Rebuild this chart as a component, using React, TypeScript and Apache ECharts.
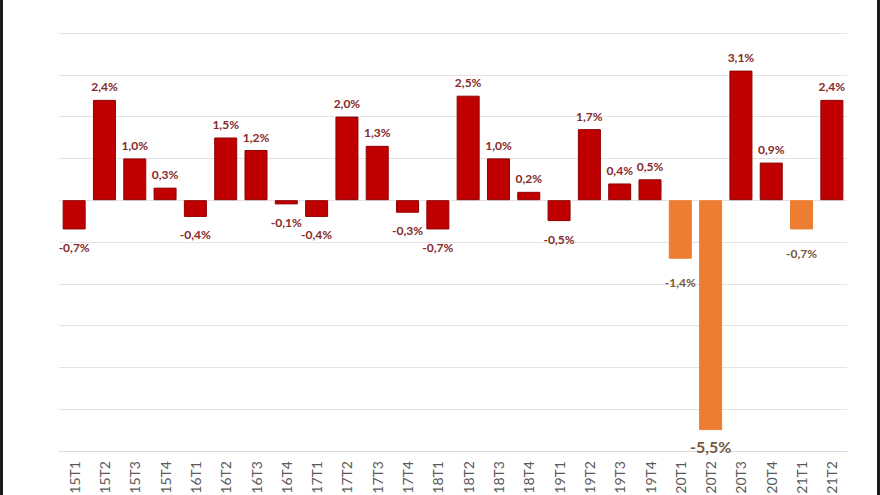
import React, { useEffect, useRef } from "react";
import * as echarts from "echarts";

const categories = [
  "2015T1", "2015T2", "2015T3", "2015T4",
  "2016T1", "2016T2", "2016T3", "2016T4",
  "2017T1", "2017T2", "2017T3", "2017T4",
  "2018T1", "2018T2", "2018T3", "2018T4",
  "2019T1", "2019T2", "2019T3", "2019T4",
  "2020T1", "2020T2", "2020T3", "2020T4",
  "2021T1", "2021T2",
];
const values = [
  -0.7, 2.4, 1.0, 0.3,
  -0.4, 1.5, 1.2, -0.1,
  -0.4, 2.0, 1.3, -0.3,
  -0.7, 2.5, 1.0, 0.2,
  -0.5, 1.7, 0.4, 0.5,
  -1.4, -5.5, 3.1, 0.9,
  -0.7, 2.4,
];
const highlighted = ["2020T1", "2020T2", "2021T1"];
const yTicks = { min: -6, max: 4, interval: 1 };

const RED = "#C00000";
const RED_BORDER = "#8E0000";
const ORANGE = "#ED7D31";
const RED_LABEL = "#862828";
const ORANGE_LABEL = "#735A40";

const fmt = (v: number) => v.toFixed(1).replace(".", ",") + "%";

export default function App() {
  const ref = useRef<HTMLDivElement>(null);
  useEffect(() => {
    if (!ref.current) return;
    const chart = echarts.init(ref.current, undefined, { renderer: "svg" });
    const minVal = Math.min(...values);
    const data = values.map((v, i) => {
      const hi = highlighted.includes(categories[i]);
      const isMin = v === minVal;
      return {
        value: v,
        itemStyle: {
          color: hi ? ORANGE : RED,
          borderColor: hi ? ORANGE : RED_BORDER,
          borderWidth: 1,
        },
        label: {
          position: v >= 0 ? "top" : "bottom",
          distance: v >= 0 ? 7 : isMin ? 8 : hi ? 18 : 12,
          color: hi ? ORANGE_LABEL : RED_LABEL,
          fontSize: isMin ? 16 : 12,
        },
      };
    });
    chart.setOption({
      animation: false,
      backgroundColor: "#ffffff",
      grid: {
        left: 59,
        right: 33,
        top: 33,
        bottom: 44,
        containLabel: false,
        outerBoundsMode: "none",
      },
      xAxis: {
        type: "category",
        data: categories,
        axisLine: { onZero: false, lineStyle: { color: "#D9D9D9", width: 1 } },
        axisTick: { show: false },
        axisLabel: {
          rotate: 90,
          margin: 10,
          color: "#595959",
          fontSize: 14,
          fontFamily: "Lato",
          interval: 0,
          formatter: (v: string) => v.slice(2),
        },
      },
      yAxis: {
        type: "value",
        min: yTicks.min,
        max: yTicks.max,
        interval: yTicks.interval,
        axisLabel: { show: false },
        axisLine: { show: false },
        axisTick: { show: false },
        splitLine: { lineStyle: { color: "#E3E3E3", width: 1 } },
      },
      series: [
        {
          type: "bar",
          data,
          barWidth: 23,
          label: {
            show: true,
            fontFamily: "Lato",
            fontWeight: "bold",
            formatter: (p: any) => fmt(p.value),
          },
        },
      ],
      graphic: [
        { type: "rect", left: 0, top: 0, shape: { width: 3, height: 495 }, style: { fill: "#1a1a1a" } },
        { type: "rect", right: 0, top: 0, shape: { width: 3, height: 495 }, style: { fill: "#1a1a1a" } },
      ],
    });
    return () => chart.dispose();
  }, []);
  return (
    <div
      ref={ref}
      style={{ position: "fixed", left: 0, top: 0, width: 880, height: 495, overflow: "hidden" }}
    />
  );
}
